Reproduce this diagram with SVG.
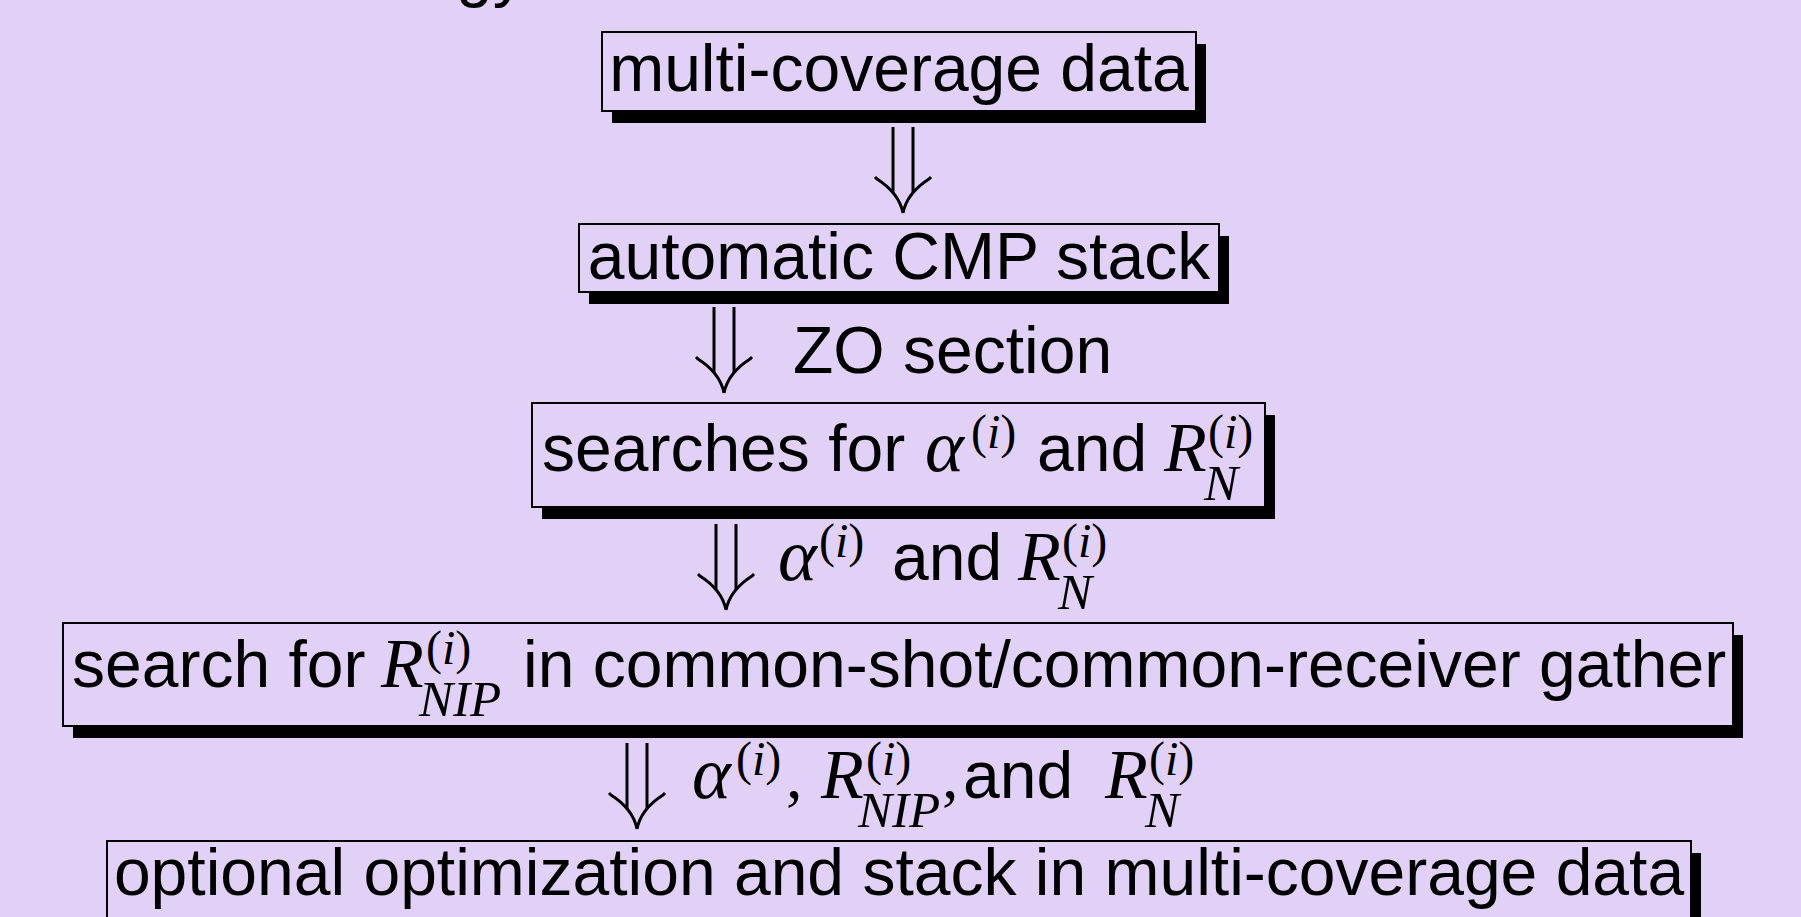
<svg xmlns="http://www.w3.org/2000/svg" width="1801" height="917" viewBox="0 0 1801 917">
  <style>
    .bg { fill: #e2d1f7; }
    .box { fill: #e2d1f7; stroke: #000; stroke-width: 2; }
    .shadow { fill: #000; }
    .t { font-family: "Liberation Sans", Arial, sans-serif; font-size: 66px; fill: #000; }
    .m { font-family: "Liberation Serif", "Times New Roman", serif; font-style: italic; font-size: 70px; }
    .ga { font-size: 74px; }
    .sup { font-family: "Liberation Serif", "Times New Roman", serif; font-style: normal; font-size: 48px; }
    .sub { font-family: "Liberation Serif", "Times New Roman", serif; font-style: italic; font-size: 51px; }
    .it { font-style: italic; }
    .rm { font-family: "Liberation Serif", "Times New Roman", serif; font-style: normal; font-size: 66px; }
    .arrow { fill: none; stroke: #000; stroke-width: 3; stroke-linecap: butt; }
  </style>
  <defs>
    <!-- double down arrow, top centre at (0,0) -->
    <g id="dbl-arrow" class="arrow">
      <path d="M-10 0V66M10 0V66"/>
      <path d="M-28 50Q-27 51 -26 52Q-4 66 0 86M28 50Q27 51 26 52Q4 66 0 86"/>
    </g>
  </defs>

  <rect class="bg" x="0" y="0" width="1801" height="917"/>

  <!-- title descenders at the top edge -->
  <text class="t" x="456" y="-6">gy</text>

  <g id="connectors">
    <use href="#dbl-arrow" x="903" y="127"/>
    <use href="#dbl-arrow" x="724" y="307"/>
    <use href="#dbl-arrow" x="726" y="524"/>
    <use href="#dbl-arrow" x="637" y="743"/>
    <text class="t" x="793" y="373">ZO section</text>
    <text class="t" y="580"><tspan class="m ga" x="778">α</tspan><tspan class="sup" x="819" y="557">(<tspan class="it">i</tspan>)</tspan><tspan x="892" y="580">and</tspan><tspan class="m" x="1018">R</tspan><tspan class="sup" x="1062" y="557">(<tspan class="it">i</tspan>)</tspan><tspan class="sub" x="1058" y="609">N</tspan></text>
    <text class="t" y="798"><tspan class="m ga" x="692">α</tspan><tspan class="sup" x="736" y="775">(<tspan class="it">i</tspan>)</tspan><tspan class="rm" x="786" y="798">,</tspan><tspan class="m" x="821">R</tspan><tspan class="sup" x="866" y="775">(<tspan class="it">i</tspan>)</tspan><tspan class="sub" x="858" y="827">NIP</tspan><tspan class="rm" x="942" y="798">,</tspan><tspan x="963">and</tspan><tspan class="m" x="1105">R</tspan><tspan class="sup" x="1149" y="775">(<tspan class="it">i</tspan>)</tspan><tspan class="sub" x="1145" y="827">N</tspan></text>
  </g>

  <g id="node-data">
    <rect class="shadow" x="612" y="44" width="594" height="79"/>
    <rect class="box" x="602" y="32" width="594" height="79"/>
    <text class="t" x="899" y="91" text-anchor="middle">multi-coverage data</text>
  </g>

  <g id="node-cmp">
    <rect class="shadow" x="589" y="236" width="640" height="68"/>
    <rect class="box" x="579" y="224" width="640" height="68"/>
    <text class="t" x="899" y="279" text-anchor="middle">automatic CMP stack</text>
  </g>

  <g id="node-search-zo">
    <rect class="shadow" x="542" y="415" width="733" height="104"/>
    <rect class="box" x="532" y="403" width="733" height="104"/>
    <text class="t" y="471"><tspan x="542">searches for</tspan><tspan class="m ga" x="925">α</tspan><tspan class="sup" x="971" y="448">(<tspan class="it">i</tspan>)</tspan><tspan x="1037" y="471">and</tspan><tspan class="m" x="1164">R</tspan><tspan class="sup" x="1208" y="448">(<tspan class="it">i</tspan>)</tspan><tspan class="sub" x="1204" y="500">N</tspan></text>
  </g>

  <g id="node-search-nip">
    <rect class="shadow" x="73" y="635" width="1670" height="103"/>
    <rect class="box" x="63" y="623" width="1670" height="103"/>
    <text class="t" y="687"><tspan x="72">search for</tspan><tspan class="m" x="381">R</tspan><tspan class="sup" x="426" y="664">(<tspan class="it">i</tspan>)</tspan><tspan class="sub" x="419" y="716">NIP</tspan><tspan x="523" y="687">in common-shot/common-receiver gather</tspan></text>
  </g>

  <g id="node-stack">
    <rect class="shadow" x="117" y="853" width="1584" height="100"/>
    <rect class="box" x="107" y="841" width="1584" height="100"/>
    <text class="t" x="899" y="895" text-anchor="middle">optional optimization and stack in multi-coverage data</text>
  </g>
</svg>
